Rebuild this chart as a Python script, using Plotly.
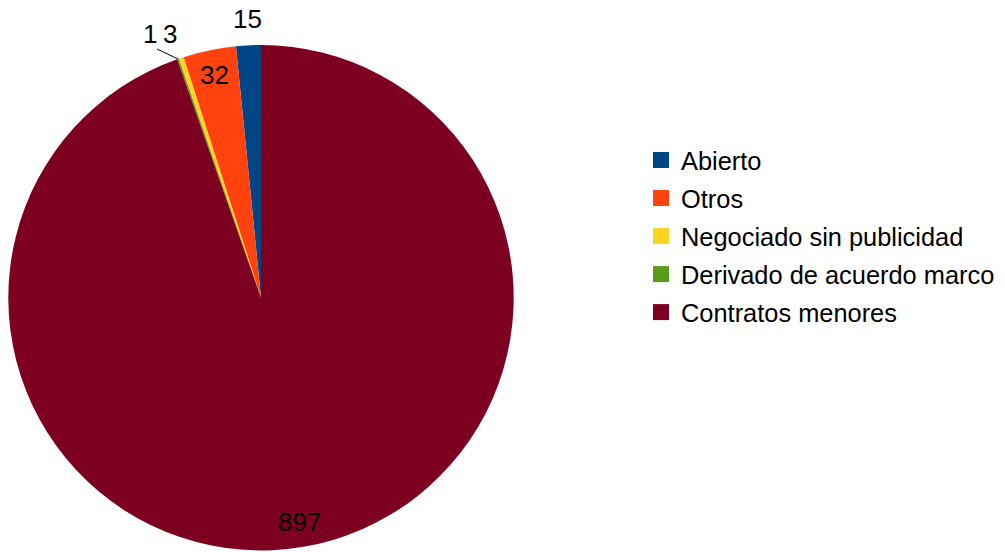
import math
import plotly.graph_objects as go

categories = ["Abierto", "Otros", "Negociado sin publicidad", "Derivado de acuerdo marco", "Contratos menores"]
values = [15, 32, 3, 1, 897]
colors = ["#004586", "#ff420e", "#ffd320", "#579d1c", "#7e0021"]

OFF = 8  # default page body margin
W, H = 1005 - OFF, 552 - OFF
CX, CY, R = 261.0, 297.7, 252.7  # pie centre / radius in screen pixels

def px_to_paper(x, y):
    return (x - OFF) / W, (H - (y - OFF)) / H

total = sum(values)

fig = go.Figure()
x0, y0 = px_to_paper(CX - R, CY + R)
x1, y1 = px_to_paper(CX + R, CY - R)
fig.add_trace(go.Pie(
    labels=categories,
    values=values,
    marker=dict(colors=colors, line=dict(width=0)),
    sort=False,
    direction="counterclockwise",
    rotation=-values[0] / total * 360,  # first slice starts at 12 o'clock
    textinfo="none",
    hoverinfo="label+value",
    showlegend=False,
    domain=dict(x=[x0, x1], y=[y0, y1]),
))

# legend entries (square swatches)
for cat, col in zip(categories, colors):
    fig.add_trace(go.Scatter(
        x=[None], y=[None], mode="markers", name=cat, legendgroup=cat,
        marker=dict(symbol="square", size=16, color=col, line=dict(width=0)),
        hoverinfo="skip", showlegend=True,
    ))

# slice mid angles (degrees, measured counterclockwise from 12 o'clock)
mids = []
acc = 0
for v in values:
    mids.append((acc + v / 2) / total * 360)
    acc += v

def polar(angle_deg, r):
    a = math.radians(angle_deg)
    return CX - r * math.sin(a), CY - r * math.cos(a)

font = dict(family="Liberation Sans, Arial, sans-serif", size=26, color="#000000")
annotations = []
# inside labels
for i in (1, 4):
    x, y = polar(mids[i], R - 25)
    px, py = px_to_paper(x, y)
    annotations.append(dict(x=px, y=py, xref="paper", yref="paper", text=str(values[i]),
                            showarrow=False, font=font, xanchor="center", yanchor="middle"))
# outside label for Abierto
x, y = polar(mids[0], R + 26)
px, py = px_to_paper(x, y)
annotations.append(dict(x=px, y=py, xref="paper", yref="paper", text=str(values[0]),
                        showarrow=False, font=font, xanchor="center", yanchor="middle"))
# small slices with leader line
ex, ey = polar(mids[3], R)
lx, ly = ex - 21, ey - 10
ax0, ay0 = px_to_paper(ex, ey)
ax1, ay1 = px_to_paper(lx, ly)
shapes = [dict(type="line", xref="paper", yref="paper", x0=ax0, y0=ay0, x1=ax1, y1=ay1,
               line=dict(color="#000000", width=1))]
for i, dx in ((3, -7), (2, 13)):
    px, py = px_to_paper(lx + dx, ly - 15)
    annotations.append(dict(x=px, y=py, xref="paper", yref="paper", text=str(values[i]),
                            showarrow=False, font=font, xanchor="center", yanchor="middle"))

lgx, lgy = px_to_paper(641, 137)
fig.update_layout(
    width=W, height=H,
    margin=dict(l=0, r=0, t=0, b=0),
    paper_bgcolor="#ffffff",
    plot_bgcolor="#ffffff",
    showlegend=True,
    xaxis=dict(visible=False),
    yaxis=dict(visible=False),
    legend=dict(x=lgx, y=lgy, xanchor="left", yanchor="top", tracegroupgap=2,
                font=dict(family="Liberation Sans, Arial, sans-serif", size=25.4, color="#000000"),
                bgcolor="rgba(0,0,0,0)"),
    annotations=annotations,
    shapes=shapes,
)

fig.write_html("out.html", config={"displayModeBar": False})
